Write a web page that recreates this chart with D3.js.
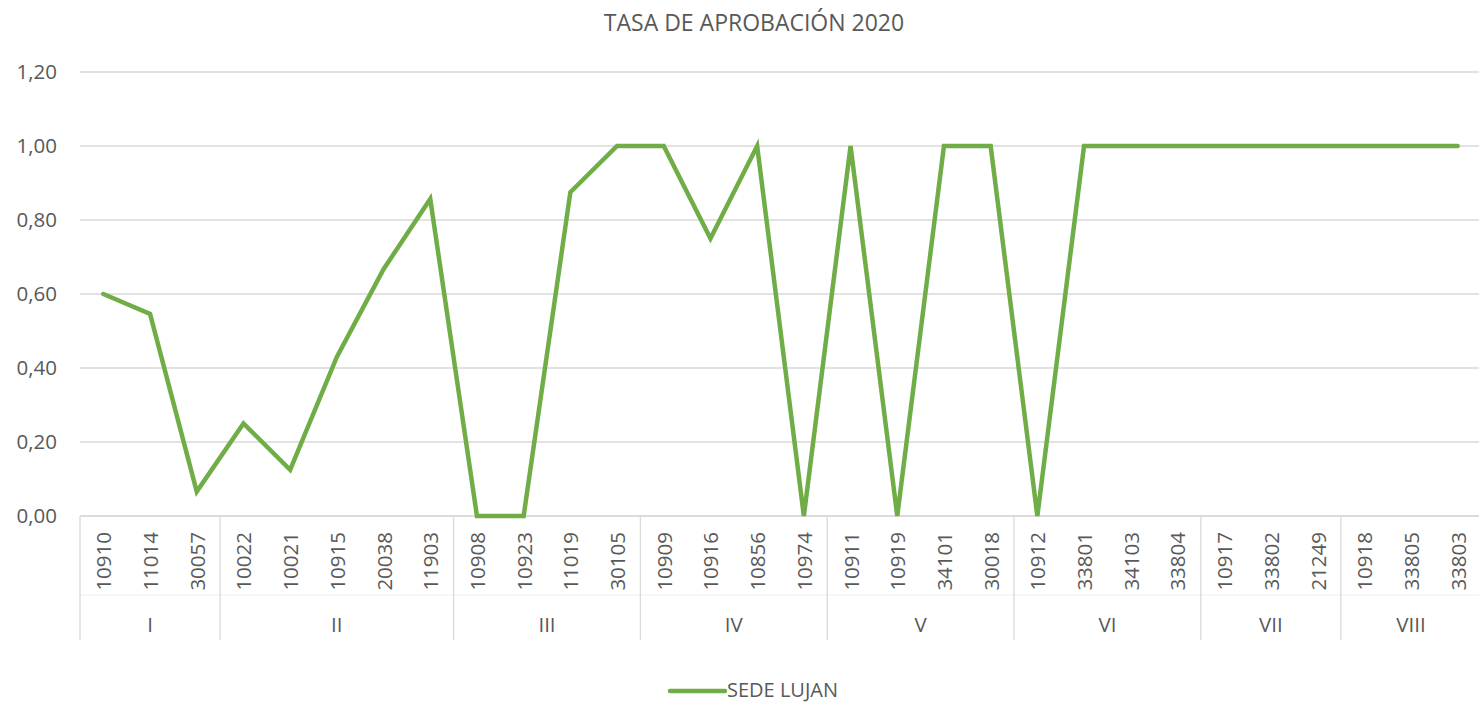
<!DOCTYPE html>
<html lang="es">
<head>
    <meta charset="UTF-8">
    <title>Tasa de aprobación 2020</title>
    <script src="https://cdnjs.cloudflare.com/ajax/libs/d3/7.8.5/d3.min.js"></script>
    <style>
        body { margin: 0; background: #fff; }
        text { font-family: "Open Sans", "Liberation Sans", sans-serif; fill: #595959; }
        .grid line { stroke: #d9d9d9; stroke-width: 1.3; }
    </style>
</head>
<body>
<div id="chart"></div>
<script>
    // data
    const codes = ["10910", "11014", "30057", "10022", "10021", "10915", "20038", "11903",
        "10908", "10923", "11019", "30105", "10909", "10916", "10856", "10974",
        "10911", "10919", "34101", "30018", "10912", "33801", "34103", "33804",
        "10917", "33802", "21249", "10918", "33805", "33803"];
    const groups = ["I", "II", "III", "IV", "V", "VI", "VII", "VIII"];
    const groupSizes = [3, 5, 4, 4, 4, 4, 3, 3];
    const values = [0.60, 0.546, 0.066, 0.25, 0.125, 0.43, 0.667, 0.857,
        0, 0, 0.875, 1, 1, 0.75, 1, 0,
        1, 0, 1, 1, 0, 1, 1, 1,
        1, 1, 1, 1, 1, 1];
    const yTicks = [0, 0.2, 0.4, 0.6, 0.8, 1.0, 1.2];
    const seriesName = "SEDE LUJAN";

    const width = 1479, height = 703;
    const plotLeft = 80, plotRight = 1481, plotTop = 72, plotBottom = 516;
    const fs = "20.5px";

    const svg = d3.select("#chart").append("svg")
        .attr("width", width).attr("height", height);

    const x = d3.scaleBand().domain(d3.range(codes.length)).range([plotLeft, plotRight]);
    const y = d3.scaleLinear().domain([0, 1.2]).range([plotBottom, plotTop]);
    const fmt = v => d3.format(".2f")(v).replace(".", ",");

    // title
    svg.append("text")
        .attr("x", 754).attr("y", 31)
        .attr("text-anchor", "middle")
        .style("font-size", "23px")
        .text("TASA DE APROBACIÓN 2020");

    // gridlines + y labels
    const grid = svg.append("g").attr("class", "grid");
    grid.selectAll("line").data(yTicks).enter().append("line")
        .attr("x1", plotLeft).attr("x2", plotRight)
        .attr("y1", d => y(d)).attr("y2", d => y(d));

    svg.selectAll(".ylab").data(yTicks).enter().append("text")
        .attr("class", "ylab")
        .attr("x", 57).attr("y", d => y(d))
        .attr("dy", "0.36em")
        .attr("text-anchor", "end")
        .style("font-size", fs)
        .text(fmt);

    // multi-level x axis
    const ax = svg.append("g");
    ax.append("line").attr("x1", plotLeft).attr("x2", plotRight)
        .attr("y1", 595).attr("y2", 595)
        .attr("stroke", "#efefef").attr("stroke-width", 1);

    let start = 0;
    const bounds = [0];
    groupSizes.forEach(n => { start += n; bounds.push(start); });
    ax.selectAll(".gtick").data(bounds).enter().append("line")
        .attr("x1", d => d < codes.length ? x(d) : plotRight)
        .attr("x2", d => d < codes.length ? x(d) : plotRight)
        .attr("y1", plotBottom).attr("y2", 640)
        .attr("stroke", "#d9d9d9").attr("stroke-width", 1.3);

    ax.selectAll(".code").data(codes).enter().append("text")
        .attr("transform", (d, i) => `translate(${x(i) + x.bandwidth() / 2 + 8},532) rotate(-90)`)
        .attr("text-anchor", "end")
        .style("font-size", fs)
        .text(d => d);

    ax.selectAll(".grp").data(groups).enter().append("text")
        .attr("x", (d, i) => {
            const a = x(bounds[i]);
            const b = bounds[i + 1] < codes.length ? x(bounds[i + 1]) : plotRight;
            return (a + b) / 2;
        })
        .attr("y", 632)
        .attr("text-anchor", "middle")
        .style("font-size", fs)
        .text(d => d);

    // axis baseline
    svg.append("line").attr("x1", plotLeft).attr("x2", plotRight)
        .attr("y1", plotBottom).attr("y2", plotBottom)
        .attr("stroke", "#d9d9d9").attr("stroke-width", 1.3);

    // line
    const line = d3.line()
        .x((d, i) => x(i) + x.bandwidth() / 2)
        .y(d => y(d));
    svg.append("path").datum(values)
        .attr("d", line)
        .attr("fill", "none")
        .attr("stroke", "#70ad47")
        .attr("stroke-width", 4.5)
        .attr("stroke-linejoin", "miter")
        .attr("stroke-linecap", "round");

    // legend
    svg.append("line").attr("x1", 670).attr("x2", 725)
        .attr("y1", 691).attr("y2", 691)
        .attr("stroke", "#70ad47").attr("stroke-width", 4.5)
        .attr("stroke-linecap", "round");
    svg.append("text").attr("x", 727).attr("y", 697)
        .style("font-size", "20px")
        .text(seriesName);
</script>
</body>
</html>
